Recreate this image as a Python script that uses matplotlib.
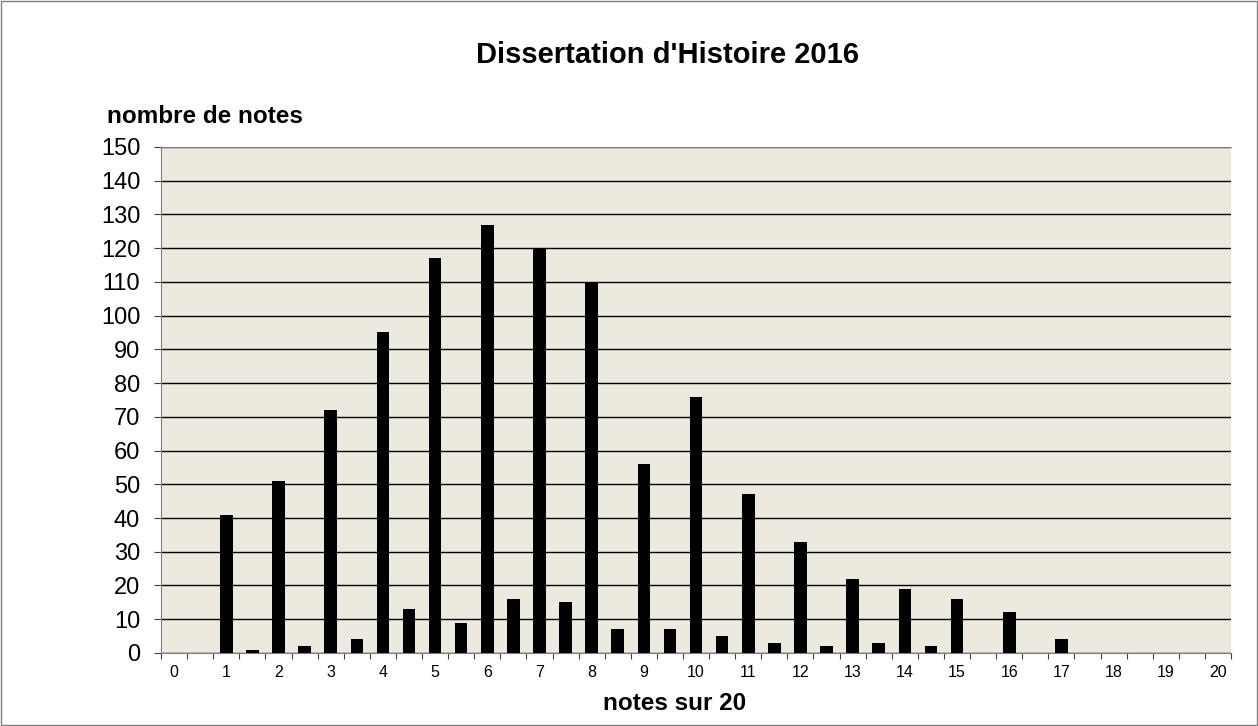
import matplotlib.pyplot as plt
import numpy as np

plt.rcParams['font.family'] = ['Liberation Sans', 'DejaVu Sans']

# notes par demi-point, de 0 a 20
notes = [i / 2 for i in range(41)]
counts = [0, 0, 41, 1, 51, 2, 72, 4, 95, 13,
          117, 9, 127, 16, 120, 15, 110, 7, 56, 7,
          76, 5, 47, 3, 33, 2, 22, 3, 19, 2,
          16, 0, 12, 0, 4, 0, 0, 0, 0, 0, 0]
tick_labels = [str(n) for n in range(21)]
y_ticks = list(range(0, 151, 10))

fig = plt.figure(figsize=(12.58, 7.26), dpi=100)
ax = fig.add_axes([0.128, 0.1006, 0.8506, 0.697])

x = np.arange(len(notes))
ax.bar(x, counts, width=0.48, color='black', zorder=3)

ax.set_facecolor('#ECE9DF')
ax.set_xlim(-0.5, len(notes) - 0.5)
ax.set_ylim(0, 150)
ax.set_yticks(y_ticks)
ax.set_yticklabels([str(v) for v in y_ticks], fontsize=17)
ax.yaxis.grid(True, color='black', linewidth=1)
ax.set_axisbelow(True)

# ticks between categories, labels on whole notes
ax.set_xticks(np.arange(-0.5, len(notes), 1), minor=False)
ax.set_xticklabels([])
ax.set_xticks(x[::2], minor=True)
ax.set_xticklabels(tick_labels, minor=True, fontsize=11.5)
ax.tick_params(axis='x', which='minor', length=0, pad=9)
ax.tick_params(axis='x', which='major', length=4, direction='out', color='#404040')
ax.tick_params(axis='y', length=5, direction='out', pad=10, color='#404040')

ax.spines['right'].set_visible(False)
for side in ['left', 'bottom', 'top']:
    ax.spines[side].set_color('#808080')

fig.text(0.531, 0.924, "Dissertation d'Histoire 2016", fontsize=21,
         fontweight='bold', ha='center', va='center')
fig.text(0.085, 0.840, "nombre de notes", fontsize=17.5,
         fontweight='bold', ha='left', va='center')
fig.text(0.536, 0.031, "notes sur 20", fontsize=17.5,
         fontweight='bold', ha='center', va='center')

# cadre gris autour de la figure
fig.patches.append(plt.Rectangle((0.001, 0.001), 0.998, 0.998, fill=False,
                                 edgecolor='#808080', linewidth=1,
                                 transform=fig.transFigure))

fig.savefig('out.png', dpi=100)
